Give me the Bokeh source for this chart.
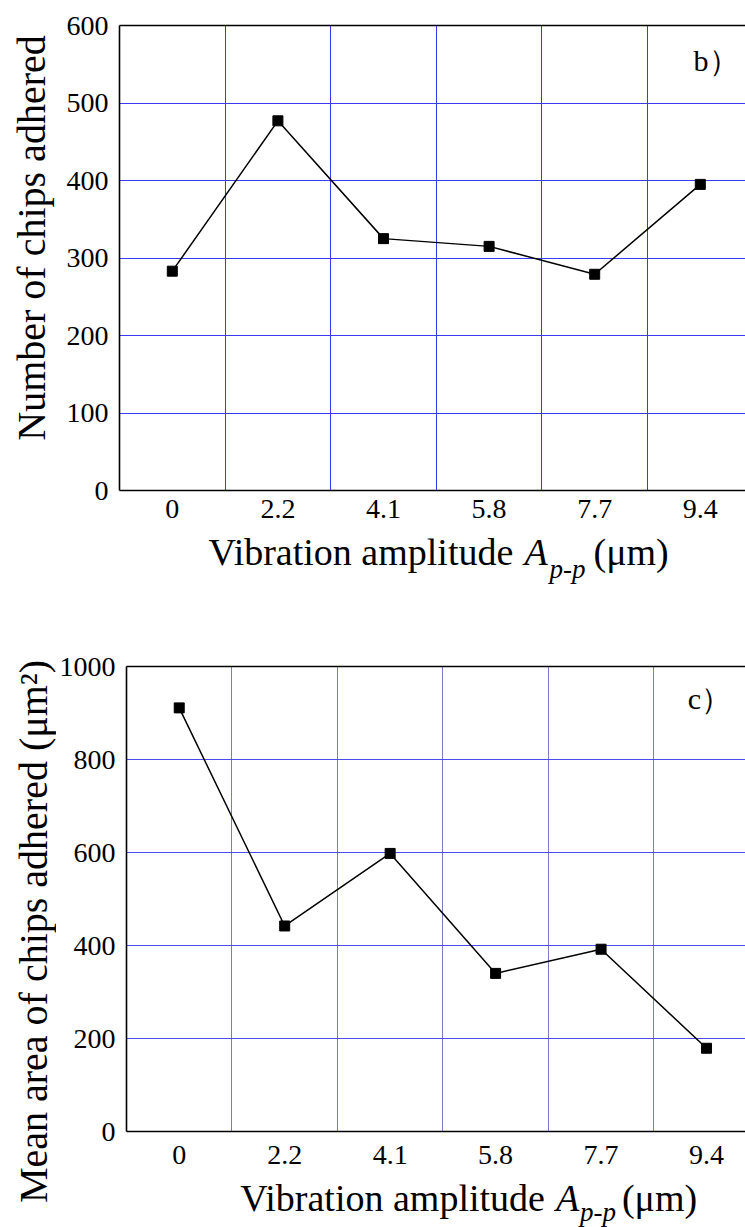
from bokeh.plotting import figure
from bokeh.models import Label, LinearAxis, FixedTicker, Range1d
from bokeh.layouts import column, row
from bokeh.embed import file_html
from bokeh.resources import INLINE

# ---------------- data ----------------
categories = ["0", "2.2", "4.1", "5.8", "7.7", "9.4"]
chips_count = [283, 477, 325, 315, 279, 395]
chips_area = [911, 442, 598, 340, 392, 179]
count_ticks = [0, 100, 200, 300, 400, 500, 600]
area_ticks = [0, 200, 400, 600, 800, 1000]

FONT = "Liberation Serif"
PAGE_W = 745
NBSP = "\u00a0"
MID = 0.3375   # baseline-to-middle distance of the font, in em


def style_axis(ax, size="28px"):
    ax.axis_line_color = "black"
    ax.axis_line_width = 1.6
    ax.major_tick_line_color = None
    ax.minor_tick_line_color = None
    ax.major_tick_out = 0
    ax.major_tick_in = 0
    ax.minor_tick_out = 0
    ax.minor_tick_in = 0
    ax.major_label_text_font = FONT
    ax.major_label_text_font_size = size
    ax.major_label_text_color = "black"


def make_panel(values, yticks, width, height, b_left, b_top, b_bottom, cell,
               hgrid_color, vgrid_color, xl_standoff):
    n = len(categories)
    x_end = (width - b_left) / cell
    p = figure(width=width, height=height,
               x_range=Range1d(0, x_end), y_range=Range1d(yticks[0], yticks[-1]),
               output_backend="svg", toolbar_location=None, tools="",
               min_border_left=b_left, min_border_right=0,
               min_border_top=b_top, min_border_bottom=b_bottom)
    p.outline_line_color = None

    xs = [i + 0.5 for i in range(n)]
    xa = p.xaxis[0]
    xa.ticker = FixedTicker(ticks=xs)
    xa.major_label_overrides = {x: c for x, c in zip(xs, categories)}
    ya = p.yaxis[0]
    ya.ticker = FixedTicker(ticks=yticks)
    style_axis(xa)
    style_axis(ya)
    ya.major_label_standoff = 11
    xa.major_label_standoff = xl_standoff

    top = LinearAxis(ticker=FixedTicker(ticks=[]), axis_line_color="black",
                     axis_line_width=1.6, major_tick_line_color=None,
                     minor_tick_line_color=None, major_label_text_color=None,
                     major_tick_out=0, major_tick_in=0)
    p.add_layout(top, "above")

    p.xgrid.ticker = FixedTicker(ticks=list(range(1, n)))
    p.xgrid.grid_line_color = vgrid_color
    p.xgrid.grid_line_width = 1
    p.ygrid.ticker = FixedTicker(ticks=yticks[1:-1])
    p.ygrid.grid_line_color = hgrid_color
    p.ygrid.grid_line_width = 1

    p.line(xs, values, line_color="black", line_width=1.5)
    p.scatter(xs, values, marker="square", size=10, fill_color="black",
              line_color="black")
    return p


def set_ylabel(ax, text, standoff):
    ax.axis_label = text
    ax.axis_label_text_font = FONT
    ax.axis_label_text_font_size = "40px"
    ax.axis_label_text_font_style = "normal"
    ax.axis_label_text_color = "black"
    ax.axis_label_standoff = standoff


def label_strip(plot, width, b_left, height):
    f = figure(width=width, height=height, x_range=plot.x_range,
               y_range=Range1d(0, height), output_backend="svg",
               toolbar_location=None, tools="", min_border_left=b_left,
               min_border_right=0, min_border_top=0, min_border_bottom=0,
               x_axis_location=None, y_axis_location=None)
    f.outline_line_color = None
    f.xgrid.visible = False
    f.ygrid.visible = False
    return f


def add_text(f, x, y, text, size, style="normal"):
    f.add_layout(Label(x=x, y=y, text=text, text_font=FONT,
                       text_font_size=f"{size}px", text_font_style=style,
                       text_color="black", text_align="left",
                       text_baseline="middle"))


# ---------------- panel b (page y 0..600) ----------------
TOP_H, PLOT1_H = 600, 530
F1_LEFT, F1_TOP, F1_H, CELL1 = 119, 25, 465, 105.6
p1 = make_panel(chips_count, count_ticks, PAGE_W, PLOT1_H, F1_LEFT, F1_TOP,
                PLOT1_H - F1_TOP - F1_H, CELL1, "#3a3af2", "#3a3af2", 9)
set_ylabel(p1.yaxis[0], NBSP * 4 + "Number of chips adhered", 10)
ypp1 = F1_H / (count_ticks[-1] - count_ticks[0])


def px1(px):
    return (px - F1_LEFT) / CELL1


def ann1(f, px, base_py, text, size, style="normal"):
    # baseline given in page pixels, inside the plot frame
    add_text(f, px1(px), (F1_TOP + F1_H - (base_py - MID * size)) / ypp1,
             text, size, style)


ann1(p1, 693, 70, "b）", 30)

s1_h = TOP_H - PLOT1_H
s1 = label_strip(p1, PAGE_W, F1_LEFT, s1_h)


def lab1(px, base_py, text, size, style="normal"):
    add_text(s1, px1(px), s1_h - (base_py - MID * size - PLOT1_H), text, size, style)


lab1(208, 564, "Vibration amplitude", 38)
lab1(524, 564, "A", 38, "italic")
lab1(549, 578, "p-p", 27, "italic")
lab1(593, 564, "(μm)", 38)

# ---------------- panel c (page y 600..1227) ----------------
BOT_H, PLOT2_H, YS_W = 627, 576, 56
F2_LEFT, F2_TOP, F2_H, CELL2 = 124, 66, 465, 105.8
p2 = make_panel(chips_area, area_ticks, PAGE_W - YS_W, PLOT2_H, F2_LEFT - YS_W,
                F2_TOP, PLOT2_H - F2_TOP - F2_H, CELL2, "#4a4af0", "#7a7ac8", 14)
ypp2 = F2_H / (area_ticks[-1] - area_ticks[0])


def px2(px):
    return (px - F2_LEFT) / CELL2


def ann2(f, px, base_py, text, size, style="normal"):
    add_text(f, px2(px), (TOP_H + F2_TOP + F2_H - (base_py - MID * size)) / ypp2,
             text, size, style)


ann2(p2, 687, 708, "c）", 30)

s2_h = BOT_H - PLOT2_H
s2 = label_strip(p2, PAGE_W - YS_W, F2_LEFT - YS_W, s2_h)


def lab2(px, base_py, text, size, style="normal"):
    add_text(s2, px2(px), s2_h - (base_py - MID * size - TOP_H - PLOT2_H),
             text, size, style)


lab2(238, 1210, "Vibration amplitude", 38)
lab2(555, 1210, "A", 38, "italic")
lab2(579, 1221, "p-p", 27, "italic")
lab2(621, 1210, "(μm)", 38)

# strip on the left of panel c carrying its rotated y label
ys2 = figure(width=YS_W, height=BOT_H, x_range=Range1d(0, 1), y_range=Range1d(0, 1),
             output_backend="svg", toolbar_location=None, tools="",
             min_border_left=YS_W - 1, min_border_right=0,
             min_border_top=96, min_border_bottom=61, x_axis_location=None)
ys2.outline_line_color = None
ys2.xgrid.visible = False
ys2.ygrid.visible = False
yax = ys2.yaxis[0]
yax.ticker = FixedTicker(ticks=[])
yax.axis_line_color = None
yax.major_tick_line_color = None
yax.minor_tick_line_color = None
yax.major_tick_out = 0
yax.major_tick_in = 0
yax.minor_tick_out = 0
yax.minor_tick_in = 0
yax.major_label_standoff = 0
yax.major_label_text_font_size = "1px"
set_ylabel(yax, "Mean area of chips adhered (μm²)", 0)

layout = column(row(column(p1, s1)),
                row(ys2, column(p2, s2)))
open("out.html", "w").write(file_html(layout, INLINE))
